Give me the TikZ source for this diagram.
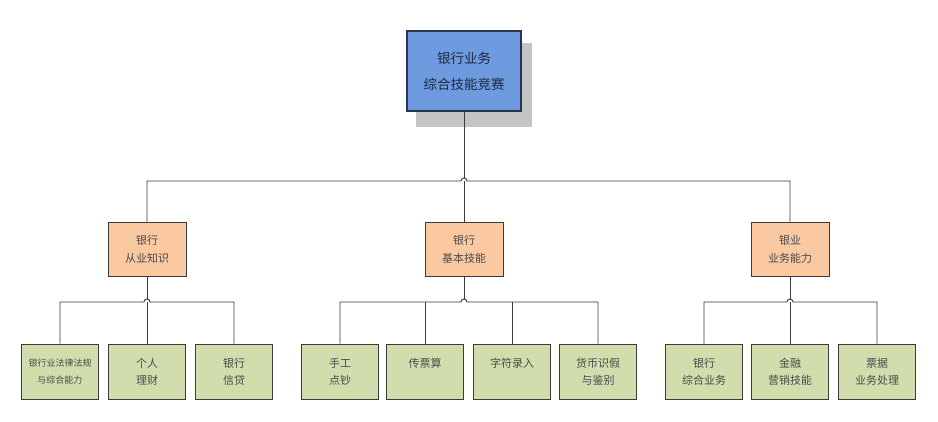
\documentclass[tikz,border=0pt]{standalone}
\usepackage{fontspec}
\newfontfamily\cjk{Noto Sans CJK SC}
\usetikzlibrary{calc}
\definecolor{topfill}{HTML}{6E9AE0}
\definecolor{topline}{HTML}{26344F}
\definecolor{midfill}{HTML}{FAC9A2}
\definecolor{botfill}{HTML}{D2DDAD}
\definecolor{boxline}{HTML}{3A3A3A}
\definecolor{txt}{HTML}{4A4A4A}
\definecolor{shadowc}{HTML}{C4C4C4}
\tikzset{
  topbox/.style={draw=topline,line width=1.8pt,fill=topfill,minimum width=114pt,minimum height=80pt,inner sep=0pt,align=center,text=topline!80!black,font=\cjk\fontsize{13.5}{26}\selectfont},
  midbox/.style={draw=boxline,line width=1pt,fill=midfill,minimum width=78pt,minimum height=54pt,inner sep=0pt,align=center,text=txt,font=\cjk\fontsize{11}{18}\selectfont},
  botbox/.style={draw=boxline,line width=1pt,fill=botfill,minimum width=77pt,minimum height=55pt,inner sep=0pt,align=center,text=txt,font=\cjk\fontsize{11}{17}\selectfont},
  conn/.style={draw=boxline,line width=0.9pt},
}
\newcommand{\hop}[1]{-- ($(#1)+(-3,0)$) arc[start angle=180,end angle=0,radius=3]}
\begin{document}
\begin{tikzpicture}[x=1pt,y=1pt]
\useasboundingbox (0,0) rectangle (938,-421);
% shadow
\fill[shadowc] (416,-43) rectangle (532,-127);
\node[topbox] (top) at (464,-71) {银行业务\\综合技能竞赛};
% middle
\node[midbox] (m1) at (147,-249) {银行\\从业知识};
\node[midbox] (m2) at (464,-249) {银行\\基本技能};
\node[midbox] (m3) at (790,-249) {银业\\业务能力};
% bottom
\node[botbox] (b11) at (60,-371.5) {{\fontsize{9}{17}\selectfont 银行业法律法规}\\{\fontsize{9}{17}\selectfont 与综合能力}};
\node[botbox] (b12) at (147,-371.5) {个人\\理财};
\node[botbox] (b13) at (234,-371.5) {银行\\信贷};
\node[botbox] (b21) at (340,-371.5) {手工\\点钞};
\node[botbox] (b22) at (425,-371.5) {传票算\\\phantom{传}};
\node[botbox] (b23) at (512,-371.5) {字符录入\\\phantom{字}};
\node[botbox] (b24) at (598,-371.5) {货币识假\\与鉴别};
\node[botbox] (b31) at (704,-371.5) {银行\\综合业务};
\node[botbox] (b32) at (790,-371.5) {金融\\营销技能};
\node[botbox] (b33) at (877,-371.5) {票据\\业务处理};
% top bus
\coordinate (h0) at (top.south |- 0,-181);
\draw[conn] (top.south) -- ($(h0)+(0,3)$);
\draw[conn] (m1.north) -- (m1.north |- h0) \hop{h0} -- (m3.north |- h0) -- (m3.north);
\draw[conn] (m2.north) -- (m2.north |- h0);
% left bus
\coordinate (h1) at (m1.south |- 0,-302);
\draw[conn] (m1.south) -- ($(h1)+(0,3)$);
\draw[conn] (b11.north) -- (b11.north |- h1) \hop{h1} -- (b13.north |- h1) -- (b13.north);
\draw[conn] (b12.north) -- (b12.north |- h1);
% middle bus
\coordinate (h2) at (m2.south |- 0,-302);
\draw[conn] (m2.south) -- ($(h2)+(0,3)$);
\draw[conn] (b21.north) -- (b21.north |- h2) \hop{h2} -- (b24.north |- h2) -- (b24.north);
\draw[conn] (b22.north) -- (b22.north |- h2);
\draw[conn] (b23.north) -- (b23.north |- h2);
% right bus
\coordinate (h3) at (m3.south |- 0,-302);
\draw[conn] (m3.south) -- ($(h3)+(0,3)$);
\draw[conn] (b31.north) -- (b31.north |- h3) \hop{h3} -- (b33.north |- h3) -- (b33.north);
\draw[conn] (b32.north) -- (b32.north |- h3);
\end{tikzpicture}
\end{document}
